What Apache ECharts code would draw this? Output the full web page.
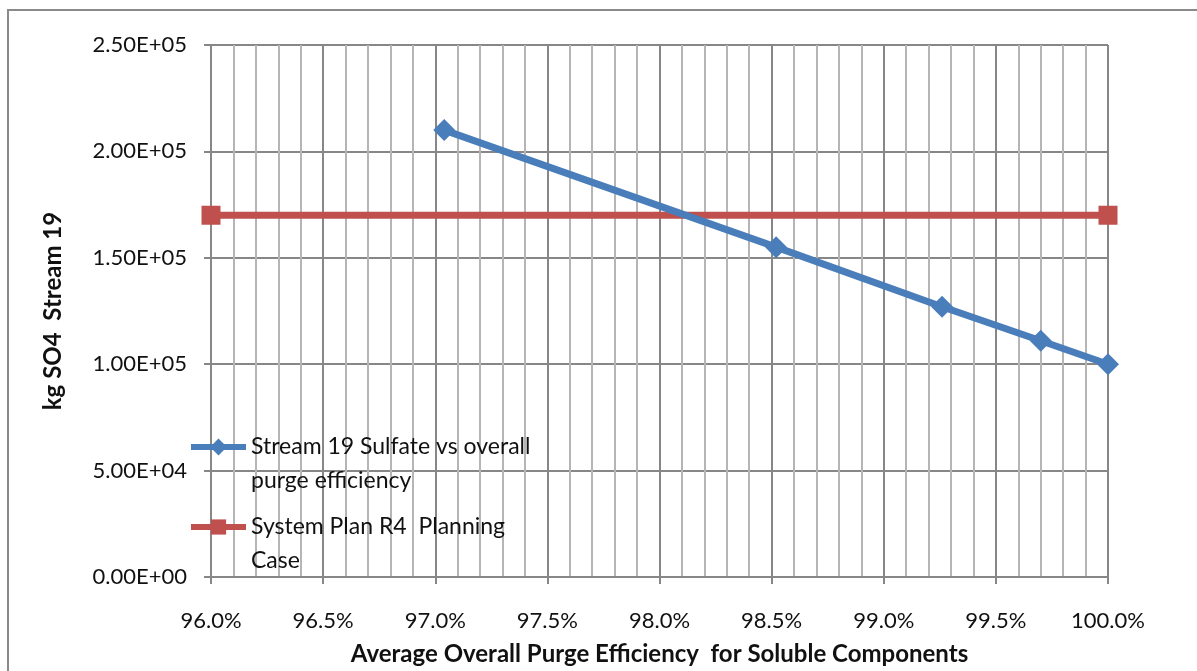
<!DOCTYPE html>
<html>
<head>
<meta charset="utf-8">
<script src="https://cdn.jsdelivr.net/npm/echarts@6/dist/echarts.min.js"></script>
<style>
  html, body { margin: 0; padding: 0; background: #fff; }
  #chart { width: 1197px; height: 671px; }
</style>
</head>
<body>
<div id="chart"></div>
<script>
// Purge efficiency (%) versus kg SO4 carried in Stream 19
const sulfateEfficiency = [97.04, 98.52, 99.26, 99.70, 100.0];
const sulfateKg = [210000, 155000, 127000, 111000, 100000];

// Planning-case reference level, drawn across the full efficiency range
const planEfficiency = [96.0, 100.0];
const planKg = [170000, 170000];

const seriesNames = [
  'Stream 19 Sulfate vs overall purge efficiency',
  'System Plan R4  Planning Case'
];
// Legend entries wrap onto two lines; a blank leading line keeps the
// first text line level with the legend symbol.
const legendLines = {
  'Stream 19 Sulfate vs overall purge efficiency': ' \nStream 19 Sulfate vs overall\npurge efficiency',
  'System Plan R4  Planning Case': ' \nSystem Plan R4  Planning\nCase'
};

const xMin = 96, xMax = 100, xStep = 0.5;
const yMin = 0, yMax = 250000, yStep = 50000;

const FONT = 'Lato, "Open Sans", sans-serif';
const MAJOR = '#878787';
const MINOR = '#b5b5b5';
const BLUE = '#4a7ebb';
const RED = '#c0504d';

function sci(v) {
  if (v === 0) return '0.00E+00';
  const e = Math.floor(Math.log10(Math.abs(v)));
  const m = v / Math.pow(10, e);
  const sign = e < 0 ? '-' : '+';
  const ae = Math.abs(e);
  return m.toFixed(2) + 'E' + sign + (ae < 10 ? '0' + ae : String(ae));
}

const pairs = (xs, ys) => xs.map((x, i) => [x, ys[i]]);

function legendFor(name, top, h) {
  return {
    data: [name],
    orient: 'vertical',
    left: 188,
    top: top,
    padding: 0,
    itemWidth: 55,
    itemHeight: h,
    selectedMode: false,
    lineStyle: { width: 6 },
    formatter: n => legendLines[n] || n,
    textStyle: {
      fontFamily: FONT,
      fontSize: 23,
      color: '#111',
      lineHeight: 34
    }
  };
}

const chart = echarts.init(document.getElementById('chart'), null, { renderer: 'canvas' });

chart.setOption({
  backgroundColor: '#ffffff',
  animation: false,
  graphic: [{
    type: 'rect',
    z: -10,
    shape: { x: 8, y: 10, width: 1220, height: 700 },
    style: { fill: 'none', stroke: '#8a8a8a', lineWidth: 2 }
  }],
  grid: { left: 211, right: 89, top: 45, bottom: 93, containLabel: false },
  legend: [legendFor(seriesNames[0], 396, 21), legendFor(seriesNames[1], 476, 19)],
  xAxis: {
    type: 'value',
    min: xMin,
    max: xMax,
    interval: xStep,
    name: 'Average Overall Purge Efficiency  for Soluble Components',
    nameLocation: 'middle',
    nameGap: 65,
    nameTextStyle: { fontFamily: FONT, fontSize: 24, fontWeight: 'bold', color: '#111' },
    axisLine: { show: true, lineStyle: { color: MAJOR, width: 2 } },
    axisTick: { show: true, inside: false, length: 7, lineStyle: { color: MAJOR, width: 2 } },
    minorTick: { show: false, splitNumber: 5 },
    axisLabel: {
      margin: 33,
      fontFamily: FONT, fontSize: 22, color: '#111',
      formatter: v => v.toFixed(1) + '%'
    },
    splitLine: { show: true, lineStyle: { color: MAJOR, width: 2 } },
    minorSplitLine: { show: true, lineStyle: { color: MINOR, width: 2 } }
  },
  yAxis: {
    type: 'value',
    min: yMin,
    max: yMax,
    interval: yStep,
    name: 'kg SO4  Stream 19',
    nameLocation: 'middle',
    nameGap: 146,
    nameTextStyle: { fontFamily: FONT, fontSize: 24, fontWeight: 'bold', color: '#111' },
    axisLine: { show: true, lineStyle: { color: MAJOR, width: 2 } },
    axisTick: { show: true, inside: false, length: 7, lineStyle: { color: MAJOR, width: 2 } },
    axisLabel: {
      margin: 24,
      fontFamily: FONT, fontSize: 22, color: '#111',
      formatter: v => sci(v)
    },
    splitLine: { show: true, lineStyle: { color: MAJOR, width: 2 } }
  },
  series: [
    {
      name: seriesNames[0],
      type: 'line',
      data: pairs(sulfateEfficiency, sulfateKg),
      symbol: 'diamond',
      symbolSize: [22, 22],
      showAllSymbol: true,
      itemStyle: { color: BLUE },
      lineStyle: { color: BLUE, width: 7 },
      z: 3
    },
    {
      name: seriesNames[1],
      type: 'line',
      data: pairs(planEfficiency, planKg),
      symbol: 'rect',
      symbolSize: 19,
      itemStyle: { color: RED },
      lineStyle: { color: RED, width: 7 },
      z: 2
    }
  ]
});
</script>
</body>
</html>
